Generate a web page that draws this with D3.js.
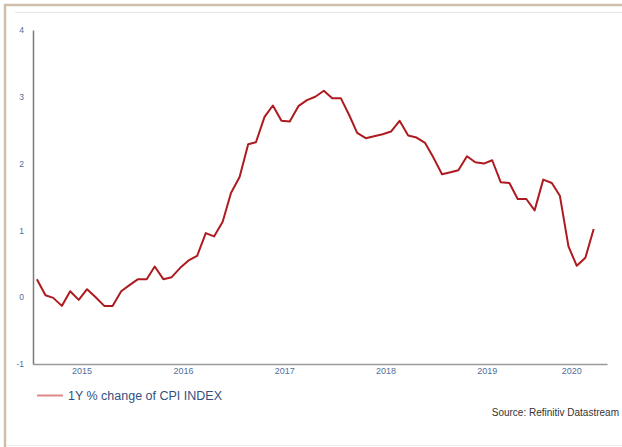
<!DOCTYPE html>
<html>
<head>
<meta charset="utf-8">
<script src="https://cdn.jsdelivr.net/npm/d3@7"></script>
<style>
  body { margin: 0; background: #fff; }
  text { font-family: "Liberation Sans", Arial, sans-serif; }
</style>
</head>
<body>
<div id="chart"></div>
<script>
// monthly observations, Jan 2015 .. Jul 2020
const startMonth = "2015-01";
const cpiChange = [
    0.27, 0.03, -0.01, -0.13, 0.09, -0.04, 0.12, 0.00, -0.13, -0.13, 0.09, 0.18,
    0.27, 0.27, 0.46, 0.27, 0.30, 0.44, 0.55, 0.62, 0.96, 0.91, 1.13, 1.56,
    1.80, 2.29, 2.32, 2.70, 2.87, 2.64, 2.63, 2.86, 2.95, 3.00, 3.09, 2.98,
    2.98, 2.72, 2.46, 2.38, 2.41, 2.44, 2.48, 2.64, 2.42, 2.39, 2.31, 2.09,
    1.84, 1.87, 1.90, 2.11, 2.02, 2.00, 2.05, 1.72, 1.71, 1.47, 1.47, 1.30,
    1.76, 1.71, 1.52, 0.76, 0.47, 0.59, 1.02
];
const yTicks = [-1, 0, 1, 2, 3, 4];
const years = [2015, 2016, 2017, 2018, 2019, 2020];
const seriesName = "1Y % change of CPI INDEX";
const sourceText = "Source: Refinitiv Datastream";

const W = 622, H = 447;
const margin = { top: 30, right: 15, bottom: 83, left: 33 };

const parseMonth = d3.timeParse("%Y-%m");
const t0 = parseMonth(startMonth);
const data = cpiChange.map((v, i) => ({
    date: d3.timeDay.offset(d3.timeMonth.offset(t0, i), 14),
    value: v
}));

const svg = d3.select("#chart")
    .append("svg")
    .attr("width", W)
    .attr("height", H);

// frame
svg.append("rect").attr("x", 0).attr("y", 0).attr("width", W).attr("height", H).attr("fill", "#fff");
svg.append("path")
    .attr("d", `M5,${H} V5 H${W}`)
    .attr("fill", "none")
    .attr("stroke", "#cdbfa9")
    .attr("stroke-width", 2.5);
svg.append("line")
    .attr("x1", 15).attr("x2", W).attr("y1", 12.5).attr("y2", 12.5)
    .attr("stroke", "#e6e6e6").attr("stroke-width", 1);
svg.append("line")
    .attr("x1", 6).attr("x2", W).attr("y1", 445.5).attr("y2", 445.5)
    .attr("stroke", "#ececec").attr("stroke-width", 1);

const xDomain = [new Date(2015, 0, 1), new Date(2020, 8, 1)];
const x = d3.scaleTime()
    .domain(xDomain)
    .range([margin.left, W - margin.right]);

const y = d3.scaleLinear()
    .domain([-1, 4])
    .range([H - margin.bottom, margin.top]);

// year labels sit in the middle of each (clipped) year span
const yearMid = years.map(yr => {
    const a = Math.max(new Date(yr, 0, 1), xDomain[0]);
    const b = Math.min(new Date(yr + 1, 0, 1), xDomain[1]);
    return new Date((+a + +b) / 2);
});

const xAxis = svg.append("g")
    .attr("transform", `translate(0, ${H - margin.bottom})`)
    .call(d3.axisBottom(x).tickValues(yearMid).tickFormat(d3.timeFormat("%Y")).tickSize(0).tickPadding(4));
xAxis.select(".domain").attr("stroke", "#9a9a9a").attr("stroke-width", 1.5);
xAxis.selectAll("text")
    .attr("fill", "#4f6f9c")
    .style("font-size", "9px")
    .attr("dx", "-2");

const yAxis = svg.append("g")
    .attr("transform", `translate(${margin.left}, 0)`)
    .call(d3.axisLeft(y).tickValues(yTicks).tickFormat(d => String(d)).tickSize(0).tickPadding(9));
yAxis.select(".domain").attr("stroke", "#7a7a7a").attr("stroke-width", 1.5);
yAxis.selectAll("text")
    .attr("fill", "#4f6f9c")
    .style("font-size", "8.5px");

// the series
const line = d3.line()
    .x(d => x(d.date))
    .y(d => y(d.value));

svg.append("path")
    .datum(data)
    .attr("fill", "none")
    .attr("stroke", "#ad1a1f")
    .attr("stroke-width", 2)
    .attr("stroke-linejoin", "round")
    .attr("d", line);

// legend
svg.append("line")
    .attr("x1", 37).attr("x2", 63)
    .attr("y1", 395.5).attr("y2", 395.5)
    .attr("stroke", "#dd8888").attr("stroke-width", 2);
svg.append("text")
    .attr("x", 68).attr("y", 395.5)
    .attr("dominant-baseline", "central")
    .attr("fill", "#34507e")
    .style("font-size", "12.5px")
    .text(seriesName);

svg.append("text")
    .attr("x", 619).attr("y", 412)
    .attr("text-anchor", "end")
    .attr("dominant-baseline", "central")
    .attr("fill", "#333")
    .style("font-size", "10px")
    .text(sourceText);
</script>
</body>
</html>
